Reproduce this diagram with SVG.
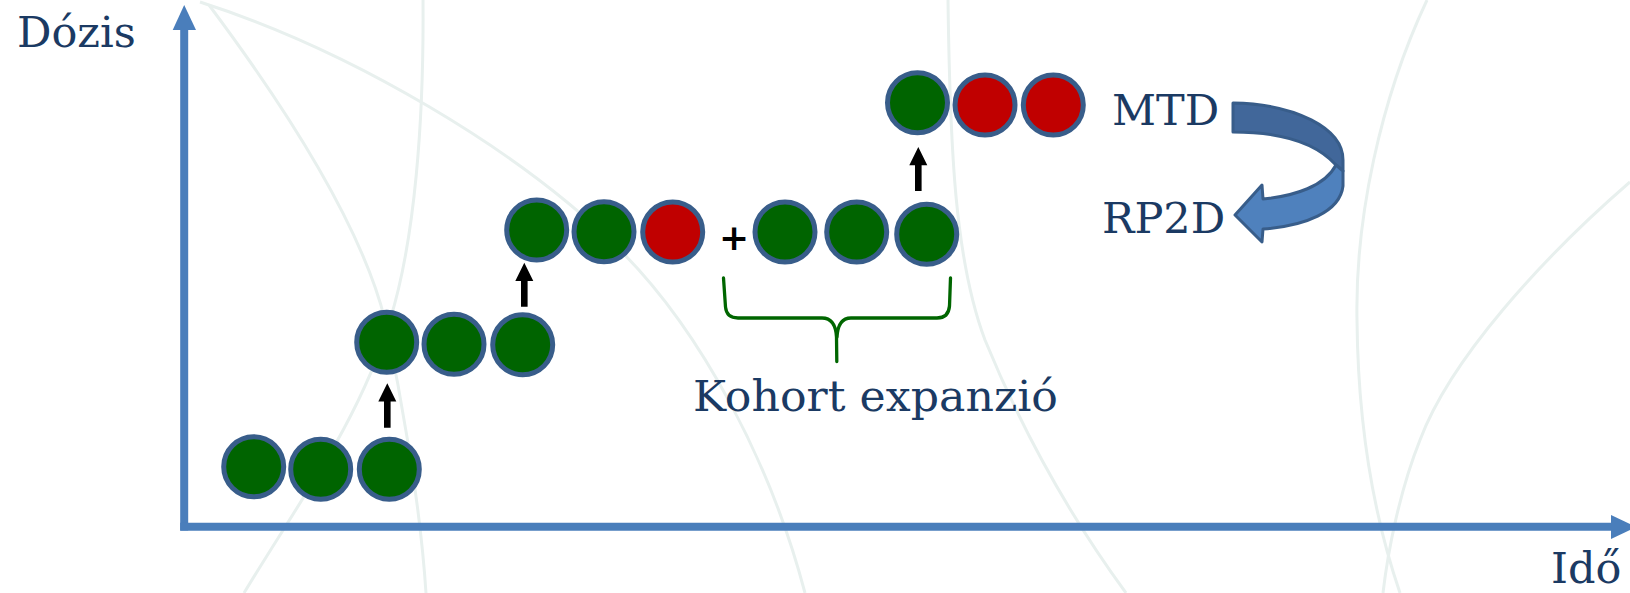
<svg xmlns="http://www.w3.org/2000/svg" width="1630" height="593" viewBox="0 0 1630 593">
  <defs>
    <style>
      .bg { fill: none; stroke: #E8F0EE; stroke-width: 3; }
      .dot { stroke: #385D8A; stroke-width: 5; }
      .ok { fill: #006400; }
      .tox { fill: #C00000; }
      .axis { stroke: #4A7EBB; stroke-width: 8; fill: none; }
      .axhead { fill: #4A7EBB; }
      .lbl { font-family: "DejaVu Serif", "Liberation Serif", serif; font-size: 43px; fill: #1B3A63; }
      .step { fill: #000000; }
      .brace { fill: none; stroke: #006600; stroke-width: 3.3; stroke-linecap: round; stroke-linejoin: round; }
    </style>
  </defs>

  <rect width="1630" height="593" fill="#FFFFFF"/>

  <!-- faint background arcs -->
  <g id="background">
    <path class="bg" d="M200,2 C350,50 520,150 620,250 C700,330 770,460 805,593"/>
    <path class="bg" d="M209,5 C280,100 360,220 385,320 C400,390 420,500 426,593"/>
    <path class="bg" d="M423,0 C424,120 415,240 390,320 C360,420 300,500 244,593"/>
    <path class="bg" d="M948,0 C950,150 955,260 985,340 C1030,450 1080,530 1126,593"/>
    <path class="bg" d="M1427,0 C1380,100 1355,220 1357,320 C1358,430 1375,520 1400,593"/>
    <path class="bg" d="M1630,182 C1540,260 1450,360 1420,440 C1400,490 1388,550 1383,593"/>
  </g>

  <!-- axes -->
  <g id="axes">
    <line class="axis" x1="184.2" y1="28" x2="184.2" y2="530.5"/>
    <polygon class="axhead" points="172.7,30 184.2,5 196,30"/>
    <line class="axis" x1="180.2" y1="526.7" x2="1613" y2="526.7"/>
    <polygon class="axhead" points="1611,515 1636,527 1611,539"/>
    <text class="lbl" x="17" y="46.5">Dózis</text>
    <text class="lbl" x="1551" y="583">Idő</text>
  </g>

  <!-- dose level 1 -->
  <g id="level1">
    <circle class="dot ok" cx="253.7" cy="466.7" r="30"/>
    <circle class="dot ok" cx="320.7" cy="469.3" r="30"/>
    <circle class="dot ok" cx="389.3" cy="469.3" r="30"/>
  </g>

  <!-- dose level 2 -->
  <g id="level2">
    <circle class="dot ok" cx="386.7" cy="342.3" r="30"/>
    <circle class="dot ok" cx="454" cy="344.3" r="30"/>
    <circle class="dot ok" cx="522.7" cy="344.7" r="30"/>
  </g>

  <!-- dose level 3 -->
  <g id="level3">
    <circle class="dot ok" cx="536.7" cy="230" r="30"/>
    <circle class="dot ok" cx="604" cy="231.7" r="30"/>
    <circle class="dot tox" cx="672.7" cy="232" r="30"/>
  </g>

  <!-- expansion cohort -->
  <g id="cohort">
    <text x="734" y="249.5" text-anchor="middle" style="font-family: 'DejaVu Sans', 'Liberation Sans', sans-serif; font-size: 36px; font-weight: bold; fill: #000000;">+</text>
    <circle class="dot ok" cx="785" cy="232" r="30"/>
    <circle class="dot ok" cx="856.7" cy="232" r="30"/>
    <circle class="dot ok" cx="926.7" cy="234.3" r="30"/>
  </g>

  <!-- dose level 4 (MTD) -->
  <g id="level4">
    <circle class="dot ok" cx="917.5" cy="102.7" r="30"/>
    <circle class="dot tox" cx="985" cy="105" r="30"/>
    <circle class="dot tox" cx="1053.3" cy="105" r="30"/>
  </g>

  <!-- escalation steps -->
  <g id="connectors">
    <polygon class="step" points="384,427.7 390.6,427.7 390.6,401.5 396.3,401.5 387.3,383.3 378.3,401.5 384,401.5"/>
    <polygon class="step" points="521,306.7 527.6,306.7 527.6,281 533.3,281 524.3,262.7 515.3,281 521,281"/>
    <polygon class="step" points="915,191 921.6,191 921.6,165.2 927.3,165.2 918.3,147 909.3,165.2 915,165.2"/>
  </g>

  <!-- cohort brace and caption -->
  <g id="brace">
    <path class="brace" d="M723.5,278 L725.5,307 Q726.5,318 738,318 L822,318 Q835.5,318 836.5,337 L836.8,361.5"/>
    <path class="brace" d="M950.5,278 L949.5,306 Q948.5,318 937,318 L851,318 Q838,318 837,337"/>
    <text class="lbl" x="693" y="411" textLength="365" lengthAdjust="spacingAndGlyphs">Kohort expanzió</text>
  </g>

  <!-- MTD to RP2D curved arrow -->
  <g id="mtd-rp2d">
    <text class="lbl" x="1112" y="125">MTD</text>
    <text class="lbl" x="1102" y="233">RP2D</text>
    <path d="M1233,103 C1295,104 1343,128 1343,160 L1343,171 L1336,165 C1318,145 1285,132 1233,132 Z" fill="#41679A" stroke="#385D8A" stroke-width="3" stroke-linejoin="round"/>
    <path d="M1336,165 L1343,171 L1343,186 C1340,212 1305,226 1263,229 L1262,242 L1235,215 L1262,185 L1263,199 C1295,196 1325,186 1336,165 Z" fill="#4F81BD" stroke="#385D8A" stroke-width="3" stroke-linejoin="round"/>
  </g>
</svg>
